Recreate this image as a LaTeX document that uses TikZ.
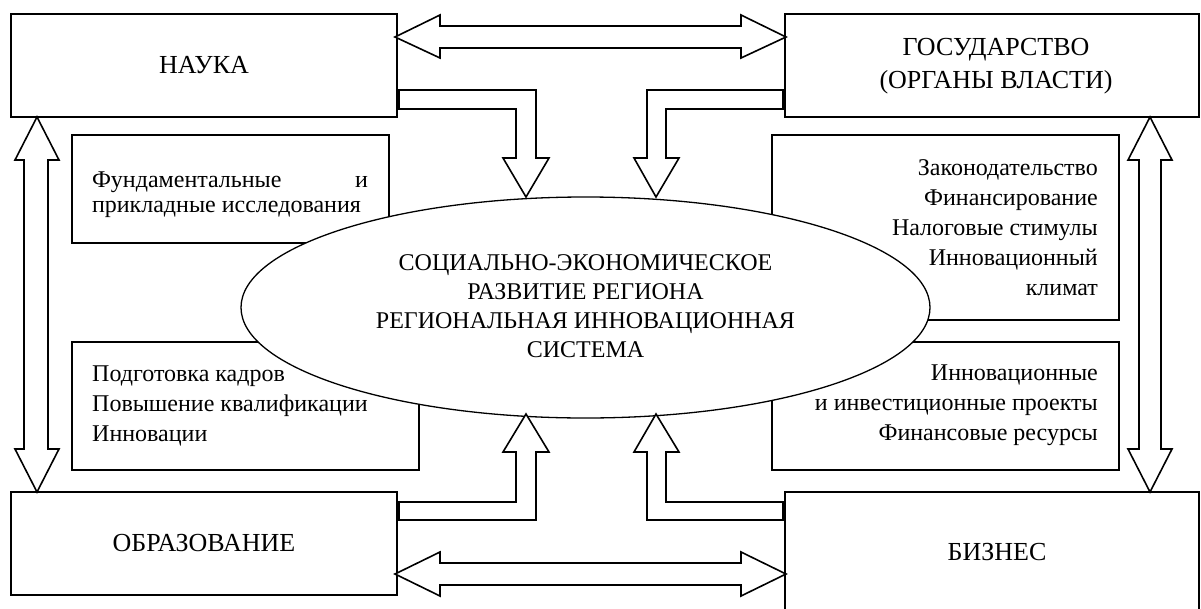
\documentclass[tikz,border=0pt]{standalone}
\usepackage{fontspec}
\setmainfont{Liberation Serif}
\usetikzlibrary{shapes.geometric}
\begin{document}
\begin{tikzpicture}[x=1pt,y=-1pt,
  bigbox/.style={draw, fill=white, line width=1.8pt, inner sep=0pt},
  smallbox/.style={draw, fill=white, line width=1.8pt, inner sep=0pt},
  mainlabel/.style={font=\fontsize{26}{33}\selectfont, align=center, inner sep=0pt},
  boxtext/.style={font=\fontsize{24}{30}\selectfont, inner sep=0pt},
  blockarrow/.style={draw, fill=white, line width=1.6pt, line join=miter}]
\useasboundingbox (0,0) rectangle (1201,608);
\fill[white] (0,0) rectangle (1201,608);

% main boxes
\node[bigbox, minimum width=386, minimum height=103] (nauka) at (204,65.5) {};
\node[bigbox, minimum width=414, minimum height=103] (gos) at (992,65.5) {};
\node[bigbox, minimum width=386, minimum height=103] (obr) at (204,543.5) {};
\node[bigbox, minimum width=414, minimum height=120] (biz) at (992,552) {};

\node[mainlabel] (naukat) at (nauka.center) {НАУКА};
\node[mainlabel] (gost) at (996,66) {ГОСУДАРСТВО\\(ОРГАНЫ ВЛАСТИ)};
\node[mainlabel] (obrt) at (obr.center) {ОБРАЗОВАНИЕ};
\node[mainlabel] (bizt) at (997,552) {БИЗНЕС};

% inner boxes
\node[smallbox, minimum width=317, minimum height=108] (fund) at (230.5,189) {};
\node[smallbox, minimum width=347, minimum height=128] (podg) at (245.5,406) {};
\node[smallbox, minimum width=347, minimum height=185] (zak) at (945.5,227.5) {};
\node[smallbox, minimum width=347, minimum height=128] (inv) at (945.5,406) {};

\node[boxtext, text width=276, align=justify, font=\fontsize{24}{25}\selectfont] (fundt) at (230,195)
  {Фундаментальные\hfill и\\прикладные исследования};
\node[boxtext, align=left, anchor=west] (podgt) at (92,406)
  {Подготовка кадров\\Повышение квалификации\\Инновации};
\node[boxtext, align=right, anchor=east] (zakt) at (1098,228)
  {Законодательство\\Финансирование\\Налоговые стимулы\\Инновационный\\климат};
\node[boxtext, align=right, anchor=east] (invt) at (1098,405)
  {Инновационные\\и инвестиционные проекты\\Финансовые ресурсы};

% central ellipse
\node[ellipse, draw, fill=white, line width=1.3pt, inner sep=0pt,
      minimum width=689, minimum height=221] (sys) at (585.5,307.5) {};
\node[align=center, inner sep=0pt, font=\fontsize{24}{29}\selectfont] (syst) at (585.5,306.5)
  {СОЦИАЛЬНО-ЭКОНОМИЧЕСКОЕ\\РАЗВИТИЕ РЕГИОНА\\РЕГИОНАЛЬНАЯ ИННОВАЦИОННАЯ\\СИСТЕМА};

% horizontal double arrows
\draw[blockarrow] (395,37) -- (440,15) -- (440,26) -- (741,26) -- (741,15) -- (786,37)
  -- (741,58) -- (741,48) -- (440,48) -- (440,58) -- cycle;
\draw[blockarrow] (395,574) -- (440,552) -- (440,563) -- (741,563) -- (741,552) -- (786,574)
  -- (741,596) -- (741,585) -- (440,585) -- (440,596) -- cycle;

% vertical double arrows
\draw[blockarrow] (37,117) -- (59,160) -- (48,160) -- (48,449) -- (59,449) -- (37,492)
  -- (15,449) -- (24,449) -- (24,160) -- (15,160) -- cycle;
\draw[blockarrow] (1150,117) -- (1172,160) -- (1161,160) -- (1161,449) -- (1172,449) -- (1150,492)
  -- (1128,449) -- (1139,449) -- (1139,160) -- (1128,160) -- cycle;

% bent arrows to the ellipse
\draw[blockarrow] (399,90) -- (536,90) -- (536,158) -- (549,158) -- (526,197) -- (503,158)
  -- (516,158) -- (516,109) -- (399,109) -- cycle;
\draw[blockarrow] (783,90) -- (647,90) -- (647,158) -- (634,158) -- (656,197) -- (679,158)
  -- (666,158) -- (666,109) -- (783,109) -- cycle;
\draw[blockarrow] (399,502) -- (516,502) -- (516,452) -- (503,452) -- (526,414) -- (549,452)
  -- (536,452) -- (536,520) -- (399,520) -- cycle;
\draw[blockarrow] (783,502) -- (666,502) -- (666,452) -- (679,452) -- (656,414) -- (634,452)
  -- (647,452) -- (647,520) -- (783,520) -- cycle;
\end{tikzpicture}
\end{document}
